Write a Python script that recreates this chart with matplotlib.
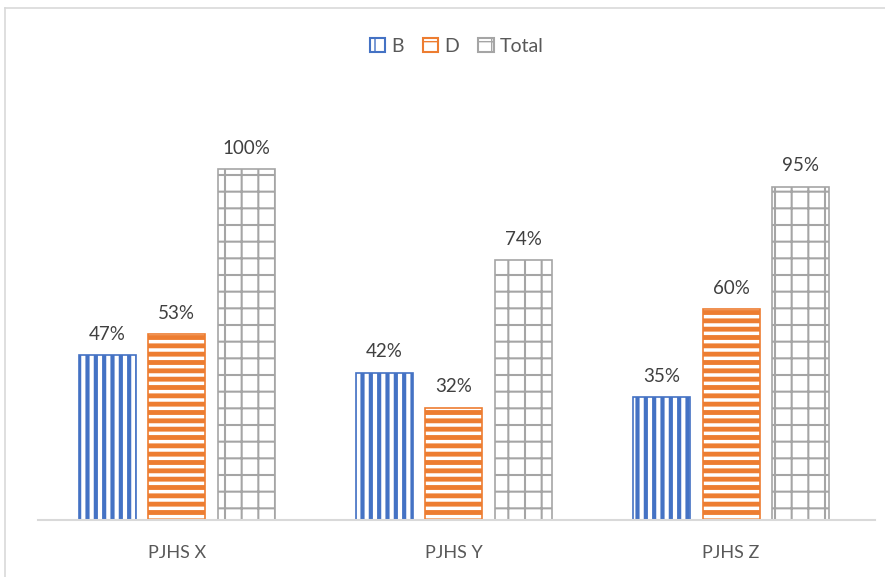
import numpy as np
import matplotlib.pyplot as plt
from matplotlib.patches import Patch
from matplotlib.lines import Line2D

plt.rcParams['font.family'] = ['Lato', 'DejaVu Sans']

schools = ['PJHS X', 'PJHS Y', 'PJHS Z']
b_vals = [47, 42, 35]
d_vals = [53, 32, 60]
total_vals = [100, 74, 95]

series = [('B', b_vals, '#4472C4', '||', 3.0),
          ('D', d_vals, '#ED7D31', '--', 3.5),
          ('Total', total_vals, '#A5A5A5', '+', 1.5)]

fig = plt.figure(figsize=(8.85, 5.77), dpi=100)
ax = fig.add_axes([0.043, 0.0988, 0.946, 0.73])

x = np.arange(len(schools))
width = 0.206
step = 0.251
handles = []
for i, (name, vals, col, hatch, hlw) in enumerate(series):
    pos = x + (i - 1) * step
    bars = ax.bar(pos, vals, width, facecolor='white', edgecolor=col,
                  hatch=hatch, linewidth=1.2)
    for b in bars:
        try:
            b.set_hatch_linewidth(hlw)
        except AttributeError:
            pass
    for p, v in zip(pos, vals):
        ax.text(p, v + 3.5, f'{v}%', ha='center', va='bottom',
                fontsize=13.5, color='#404040')
    h = Patch(facecolor='white', edgecolor=col, hatch=hatch[0], linewidth=1.5)
    handles.append(h)

ax.set_xlim(-0.5, 2.52)
ax.set_ylim(0, 120)
ax.set_xticks(x)
ax.set_xticklabels(schools, fontsize=13, color='#595959')
ax.tick_params(axis='x', length=0, pad=18)
ax.set_yticks([])
for s in ['top', 'right', 'left']:
    ax.spines[s].set_visible(False)
ax.spines['bottom'].set_color('#D9D9D9')
ax.spines['bottom'].set_linewidth(1.5)

leg = fig.legend(handles, [s[0] for s in series], loc='center',
                 bbox_to_anchor=(0.516, 0.92), ncol=3, frameon=False,
                 fontsize=14, handlelength=0.8, handleheight=0.8,
                 handletextpad=0.3, columnspacing=1.0)
for t in leg.get_texts():
    t.set_color('#595959')

# chart area border
fig.add_artist(Line2D([5/885, 5/885], [0, 1 - 8/577], transform=fig.transFigure,
                      color='#D9D9D9', lw=1.2))
fig.add_artist(Line2D([5/885, 1], [1 - 8/577, 1 - 8/577], transform=fig.transFigure,
                      color='#D9D9D9', lw=1.2))

fig.savefig('out.png', dpi=100)
